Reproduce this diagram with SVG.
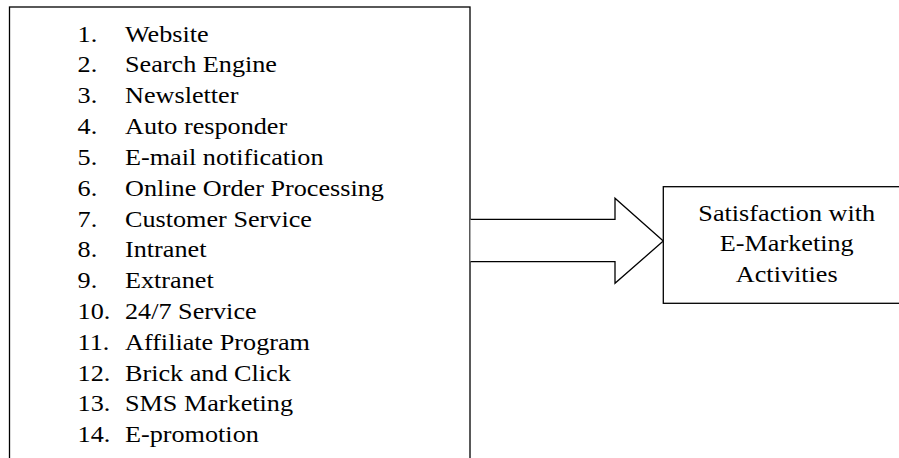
<svg xmlns="http://www.w3.org/2000/svg" width="899" height="458" viewBox="0 0 899 458">
<style>
.box{fill:#fff;stroke:#000;stroke-width:1.3}
.t{font-family:"Liberation Serif","Times New Roman",serif;font-size:23.5px;fill:#000}
.c{text-anchor:middle}
</style>
<rect width="899" height="458" fill="#fff"/>
<g id="list-node">
<rect class="box" x="9.5" y="7" width="460.5" height="470"/>
<g transform="scale(1.115,1)" class="t">
<text x="69.6" y="41.6">1.</text><text x="112.1" y="41.6">Website</text>
<text x="69.6" y="72.4">2.</text><text x="112.1" y="72.4">Search Engine</text>
<text x="69.6" y="103.2">3.</text><text x="112.1" y="103.2">Newsletter</text>
<text x="69.6" y="134">4.</text><text x="112.1" y="134">Auto responder</text>
<text x="69.6" y="164.8">5.</text><text x="112.1" y="164.8">E-mail notification</text>
<text x="69.6" y="195.8">6.</text><text x="112.1" y="195.8">Online Order Processing</text>
<text x="69.6" y="226.6">7.</text><text x="112.1" y="226.6">Customer Service</text>
<text x="69.6" y="257.4">8.</text><text x="112.1" y="257.4">Intranet</text>
<text x="69.6" y="288.2">9.</text><text x="112.1" y="288.2">Extranet</text>
<text x="69.6" y="319">10.</text><text x="112.1" y="319">24/7 Service</text>
<text x="69.6" y="349.8">11.</text><text x="112.1" y="349.8">Affiliate Program</text>
<text x="69.6" y="380.6">12.</text><text x="112.1" y="380.6">Brick and Click</text>
<text x="69.6" y="411.4">13.</text><text x="112.1" y="411.4">SMS Marketing</text>
<text x="69.6" y="442.2">14.</text><text x="112.1" y="442.2">E-promotion</text>
</g>
</g>
<g id="connectors">
<path class="box" d="M470.5,219.3 H615 V198.3 L663.3,241 L615,283.3 V261.7 H470.5"/>
</g>
<g id="outcome-node">
<rect class="box" x="663.3" y="186.7" width="260" height="116.6"/>
<g transform="scale(1.115,1)" class="t c">
<text x="705.6" y="221.2">Satisfaction with</text>
<text x="705.6" y="251.5">E-Marketing</text>
<text x="705.6" y="281.8">Activities</text>
</g>
</g>
</svg>
